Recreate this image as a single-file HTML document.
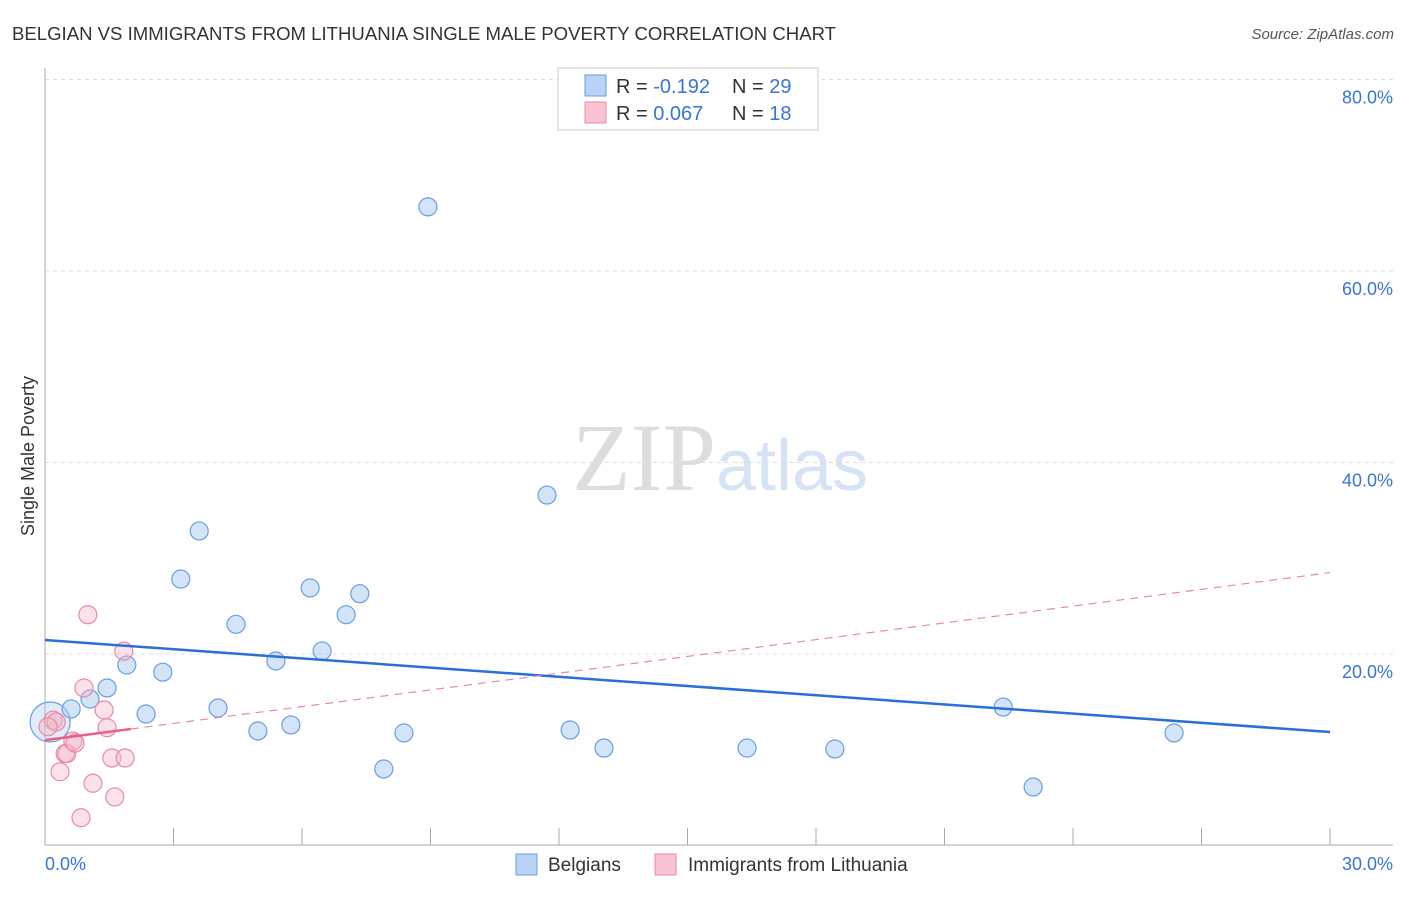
<!DOCTYPE html>
<html><head><meta charset="utf-8"><style>
body{margin:0;background:#fff;font-family:"Liberation Sans",sans-serif}
svg text{font-family:"Liberation Sans",sans-serif}
</style></head><body>
<svg id="c" width="1406" height="892">
<text x="12" y="40" font-size="18" fill="#333" textLength="824" lengthAdjust="spacingAndGlyphs">BELGIAN VS IMMIGRANTS FROM LITHUANIA SINGLE MALE POVERTY CORRELATION CHART</text>
<text x="1394" y="39" font-size="15" fill="#555" font-style="italic" text-anchor="end">Source: ZipAtlas.com</text>
<text x="716" y="490" font-size="96" fill="#ddd" text-anchor="end" style="font-family:'Liberation Serif',serif">ZIP</text>
<text x="716" y="490" font-size="72" fill="#d5e3f5">atlas</text>
<text transform="translate(34,456) rotate(-90)" font-size="18" fill="#333" text-anchor="middle">Single Male Poverty</text>
<g id="grid"></g><g id="marks"></g>
<g>
<rect x="558" y="68" width="260" height="62" fill="#fff" stroke="#ccc"/>
<rect x="585" y="75" width="21" height="21" fill="#b8d3f5" stroke="#6a9ee0"/>
<rect x="585" y="102" width="21" height="21" fill="#f8c4d3" stroke="#e88aa5"/>
<text x="616" y="93" font-size="20" fill="#333">R = <tspan fill="#3a75d0">-0.192</tspan></text>
<text x="732" y="93" font-size="20" fill="#333">N = <tspan fill="#3a75d0">29</tspan></text>
<text x="616" y="120" font-size="20" fill="#333">R = <tspan fill="#3a75d0"> 0.067</tspan></text>
<text x="732" y="120" font-size="20" fill="#333">N = <tspan fill="#3a75d0"> 18</tspan></text>
</g>
<g>
<rect x="516" y="854" width="21" height="21" fill="#b8d3f5" stroke="#6a9ee0"/>
<text x="548" y="871" font-size="19" fill="#333">Belgians</text>
<rect x="655" y="854" width="21" height="21" fill="#f8c4d3" stroke="#e88aa5"/>
<text x="688" y="871" font-size="19" fill="#333">Immigrants from Lithuania</text>
</g>
</svg>
<script>
const yTicks=[20,40,60,80];
const xTickLabels=["0.0%","30.0%"];
const blueX=[0.12,0.61,1.05,1.45,1.91,2.36,2.75,3.17,3.60,4.04,4.46,4.97,5.39,5.74,6.19,6.47,7.03,7.35,7.91,8.38,8.94,11.72,12.26,13.05,16.39,18.44,22.37,23.07,26.36];
const blueY=[12.9,14.26,15.3,16.45,18.85,13.73,18.1,27.83,32.85,14.36,23.1,11.96,19.27,12.59,26.9,20.32,24.1,26.3,7.99,11.75,66.7,36.6,12.06,10.18,10.18,10.08,14.46,6.11,11.75];
const pinkX=[0.19,0.26,0.07,0.35,0.47,0.51,0.65,0.70,0.84,0.91,1.00,1.12,1.38,1.45,1.56,1.63,1.84,1.87];
const pinkY=[13.1,12.9,12.4,7.7,9.6,9.6,10.9,10.7,2.9,16.45,24.1,6.5,14.15,12.3,9.14,5.07,20.3,9.14];
const blueTrend=[21.46,11.85];
const pinkTrend=[11.0,28.5];
const X=v=>45+v/30*1285, Y=v=>845.5-v/20*191.5;
const NS="http://www.w3.org/2000/svg";
function mk(p,t,a){const e=document.createElementNS(NS,t);for(const k in a)e.setAttribute(k,a[k]);p.appendChild(e);return e;}
const g=document.getElementById('grid'), m=document.getElementById('marks');
yTicks.forEach(t=>{
 const l=mk(g,'line',{x1:45,x2:1393,y1:Y(t),y2:Y(t),stroke:'#ddd','stroke-dasharray':'4,4'});
 
 
 const tx=mk(g,'text',{x:1393,y:Y(t)+24,'font-size':18,fill:'#3a75d0','text-anchor':'end'});tx.textContent=t.toFixed(1)+'%';
 
 
});
const ya=mk(g,'line',{x1:45,x2:45,y1:68,y2:845,stroke:'#aaa'});


const xa=mk(g,'line',{x1:45,x2:1393,y1:845,y2:845,stroke:'#aaa'});


for(let i=1;i<=10;i++){const t=mk(g,'line',{x1:X(i*3),x2:X(i*3),y1:828,y2:845,stroke:'#aaa'});
 
 }
[[0,'start'],[30,'end']].forEach((p,i)=>{const t=mk(g,'text',{x:p[0]?1393:45,y:870,'font-size':18,fill:'#3a75d0','text-anchor':p[1]});t.textContent=xTickLabels[i];
 
 });
blueX.forEach((x,i)=>{const c=mk(m,'circle',{cx:X(x),cy:Y(blueY[i]),r:i==0?20:9,fill:i==0?'rgba(168,200,242,0.35)':'rgba(168,200,242,0.5)',stroke:'#6a9ee0','stroke-width':1.2});
 
 });
pinkX.forEach((x,i)=>{const c=mk(m,'circle',{cx:X(x),cy:Y(pinkY[i]),r:9,fill:'rgba(245,180,200,0.4)',stroke:'#e88aa5','stroke-width':1.2});
 
 });
const bl=mk(m,'line',{x1:X(0),y1:Y(blueTrend[0]),x2:X(30),y2:Y(blueTrend[1]),stroke:'#2a6fd6','stroke-width':2.5});


const pf=v=>pinkTrend[0]+(pinkTrend[1]-pinkTrend[0])*v/30;
const pd=mk(m,'line',{x1:X(2),y1:Y(pf(2)),x2:X(30),y2:Y(pf(30)),stroke:'#e88aa5','stroke-width':1.2,'stroke-dasharray':'8,6'});


const ps=mk(m,'line',{x1:X(0),y1:Y(pf(0)),x2:X(2),y2:Y(pf(2)),stroke:'#e8608a','stroke-width':2.5});


</script>
</body></html>
